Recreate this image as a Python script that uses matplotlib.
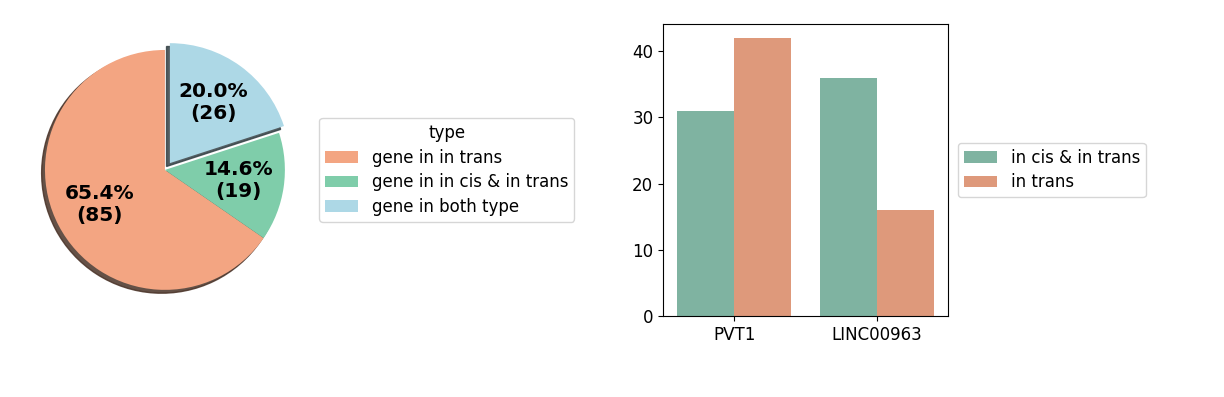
import numpy as np
import matplotlib
matplotlib.use("Agg")
import matplotlib.pyplot as plt
import seaborn as sns
import pandas as pd

# pie data
pie_labels = ["gene in in trans", "gene in in cis & in trans", "gene in both type"]
pie_counts = [85, 19, 26]
pie_colors = ["#f3a582", "#7fcdaa", "#add8e6"]

# bar data
genes = ["PVT1", "PVT1", "LINC00963", "LINC00963"]
kinds = ["in cis & in trans", "in trans", "in cis & in trans", "in trans"]
counts = [31, 42, 36, 16]
bar_colors = ["#7fb3a1", "#de997b"]

plt.rcParams['font.family'] = ['DejaVu Sans']
plt.rcParams['font.size'] = 12

fig = plt.figure(figsize=(12.24, 3.97), dpi=100)

# ---- pie ----
ax1 = fig.add_axes([0.01225, 0.194, 0.245, 0.756])
total = sum(pie_counts)

def fmt(p):
    return "%.1f%%\n(%d)" % (p, round(p * total / 100.0))

wedges, texts, autotexts = ax1.pie(
    pie_counts, colors=pie_colors, startangle=90, explode=[0, 0, 0.07],
    shadow={'ox': -0.02, 'oy': -0.02, 'alpha': 0.85}, autopct=fmt, pctdistance=0.62,
    textprops=dict(fontsize=14.5, fontweight="bold", color="black"))
for t in autotexts:
    t.set_ha("center")
    t.set_multialignment("center")
ax1.set_xlim(-1.25, 1.25)
ax1.set_ylim(-1.25, 1.25)
ax1.set_aspect("equal")
fig.legend(wedges, pie_labels, title="type", loc="center left",
           bbox_to_anchor=(0.254, 0.572), fontsize=12, title_fontsize=12,
           labelspacing=0.4, borderpad=0.35)

# ---- bars ----
ax2 = fig.add_axes([0.5417, 0.204, 0.2328, 0.7355])
df = pd.DataFrame({"gene": genes, "kind": kinds, "count": counts})
sns.barplot(data=df, x="gene", y="count", hue="kind", palette=bar_colors,
            saturation=1, ax=ax2)
ax2.set_xlabel("")
ax2.set_ylabel("")
ax2.set_yticks([0, 10, 20, 30, 40])
ax2.legend(loc="center left", bbox_to_anchor=(1.006, 0.5), fontsize=12,
           labelspacing=0.4, borderpad=0.35)

fig.savefig("out.png", dpi=100)
